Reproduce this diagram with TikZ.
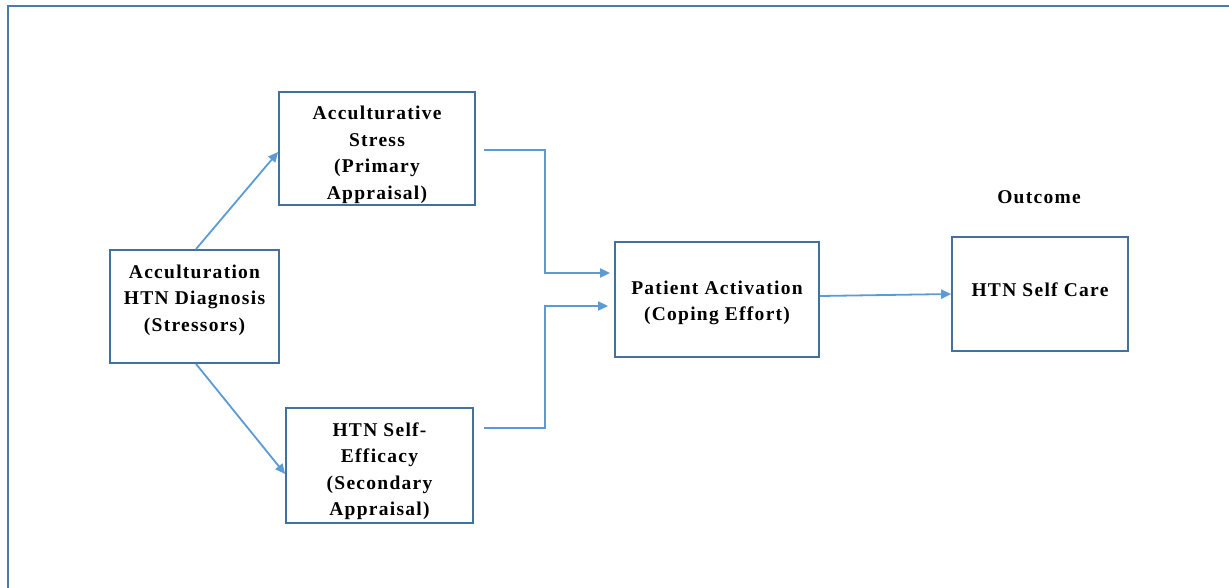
\documentclass[tikz,border=0pt]{standalone}
\usepackage{fontspec}
\setmainfont{Liberation Serif}
\newfontfamily\boxfont[LetterSpace=6.5]{Liberation Serif}
\usetikzlibrary{arrows.meta,calc}
\definecolor{framec}{HTML}{4F7AA8}
\definecolor{boxc}{HTML}{41719C}
\definecolor{arrc}{HTML}{5B9BD5}
\tikzset{
  x=1pt,y=1pt,
  box/.style={draw=boxc,line width=1.8pt,inner sep=0pt},
  txt/.style={inner sep=0pt,align=center,text=black,
    font=\boxfont\bfseries\fontsize{19.5}{26.5}\selectfont},
  conn/.style={draw=arrc,line width=1.8pt,-{Triangle[length=10pt,width=9pt]}},
}
\begin{document}
\begin{tikzpicture}
\useasboundingbox (0,0) rectangle (1229,-587);
\draw[framec,line width=2.5pt] (8,-6) rectangle (1240,-600);
\node[box,minimum width=169pt,minimum height=113pt] (acc) at (194.5,-306.5) {};
\node[txt] (acct) at (194.5,-300) {Acculturation\\HTN Diagnosis\\(Stressors)};
\node[box,minimum width=196pt,minimum height=113pt] (stress) at (377,-148.5) {};
\node[txt] (stresst) at (377,-155) {Acculturative\\Stress\\(Primary\\Appraisal)};
\node[box,minimum width=187pt,minimum height=115pt] (eff) at (379.5,-465.5) {};
\node[txt] (efft) at (379.5,-471) {HTN Self-\\Efficacy\\(Secondary\\Appraisal)};
\node[box,minimum width=204pt,minimum height=115pt] (pa) at (717,-299.5) {};
\node[txt] (pat) at (717,-303) {Patient Activation\\(Coping Effort)};
\node[box,minimum width=176pt,minimum height=114pt] (care) at (1040,-294) {};
\node[txt] (caret) at (1040,-290) {HTN Self Care};
\node[txt] (outc) at (1039,-197) {Outcome};
\draw[conn] ([xshift=1.5pt]acc.north) -- ([yshift=-3.5pt]stress.west);
\draw[conn] ([xshift=1.5pt]acc.south) -- ([yshift=-8.5pt]eff.west);
\coordinate (s1) at ([xshift=8pt,yshift=-1.5pt]stress.east);
\coordinate (e1) at ([xshift=10pt,yshift=37.5pt]eff.east);
\draw[conn] (s1) -- (545,-150) -- (545,-273) -- ([xshift=-4pt,yshift=26.5pt]pa.west);
\draw[conn] (e1) -- (545,-428) -- (545,-306) -- ([xshift=-6pt,yshift=-6.5pt]pa.west);
\draw[conn] ([yshift=3.5pt]pa.east) -- (care.west);
\end{tikzpicture}
\end{document}
